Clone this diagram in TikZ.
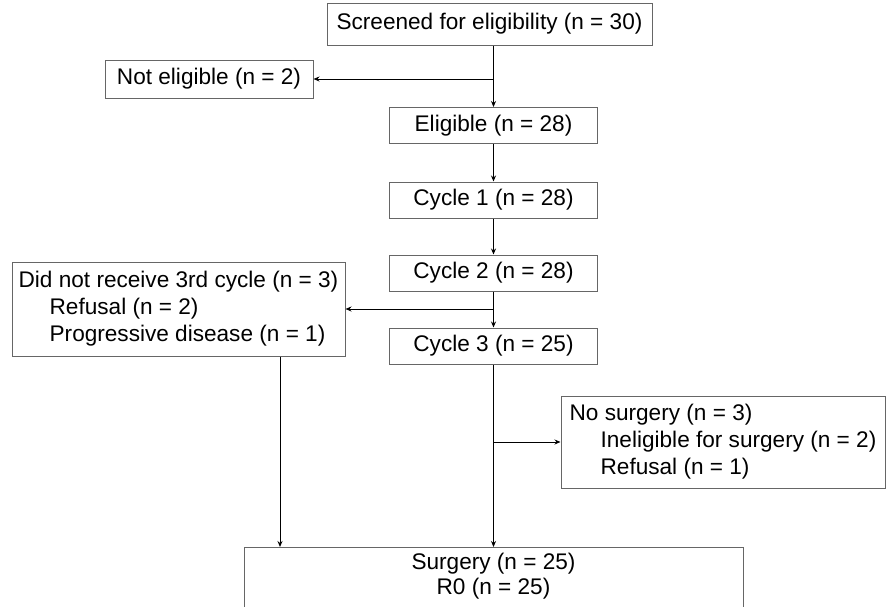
\documentclass[tikz,border=0pt]{standalone}
\usepackage{fontspec}
\setmainfont{Liberation Sans}
\usetikzlibrary{arrows.meta}
\definecolor{boxline}{gray}{0.4}

\begin{document}
\begin{tikzpicture}[x=1pt,y=-1pt,font=\fontsize{22.6}{27}\selectfont]
\clip (0,0) rectangle (887,606);
\fill [white] (0,0) rectangle (887,606);

\begin{scope}[every node/.style={draw=boxline,line width=1pt,minimum height=36pt,inner sep=0pt}]
\node [minimum width=325pt, minimum height=42pt] (screen) at (489.5,24) {Screened for eligibility (n = 30)};
\node [minimum width=208pt, minimum height=38pt] (noelig) at (209,79) {Not eligible (n = 2)};
\node [minimum width=208pt] (elig) at (493.5,125.5) {Eligible (n = 28)};
\node [minimum width=208pt] (cyc1) at (493.5,200) {Cycle 1 (n = 28)};
\node [minimum width=208pt] (cyc2) at (493.5,273) {Cycle 2 (n = 28)};
\node [minimum width=208pt] (cyc3) at (493.5,346) {Cycle 3 (n = 25)};
\node [minimum width=333pt, minimum height=94pt, align=left] (nocyc) at (178.5,309)
  {Did not receive 3rd cycle (n = 3)\\\hspace*{31pt}Refusal (n = 2)\\\hspace*{31pt}Progressive disease (n = 1)};
\node [minimum width=324pt, minimum height=92pt, align=left] (nosurg) at (723,442)
  {No surgery (n = 3)\\\hspace*{31pt}Ineligible for surgery (n = 2)\\\hspace*{31pt}Refusal (n = 1)};
\node [minimum width=499pt, anchor=north, inner ysep=6pt, text depth=30pt, align=center] (surg) at (493.5,547)
  {Surgery (n = 25)\\[-2pt]R0 (n = 25)};
\end{scope}

\begin{scope}[line width=1pt, >={Stealth[length=6pt,width=5pt]}]
\coordinate (splitA) at (elig.north |- noelig.east);
\coordinate (splitB) at (cyc2.south |- nocyc.east);
\coordinate (splitC) at (cyc3.south |- nosurg.west);
\coordinate (dropA) at ([xshift=101.5pt]nocyc.south);

\draw (elig.north |- screen.south) -- (splitA);
\draw [->] (splitA) -- (elig.north);
\draw [->] (splitA) -- (noelig.east);
\draw [->] (elig) -- (cyc1);
\draw [->] (cyc1) -- (cyc2);
\draw [->] (cyc2) -- (cyc3);
\draw [->] (splitB) -- (nocyc.east);
\draw [->] (cyc3.south) -- (cyc3.south |- surg.north);
\draw [->] (splitC) -- (nosurg.west);
\draw [->] (dropA) -- (dropA |- surg.north);
\end{scope}
\end{tikzpicture}
\end{document}
